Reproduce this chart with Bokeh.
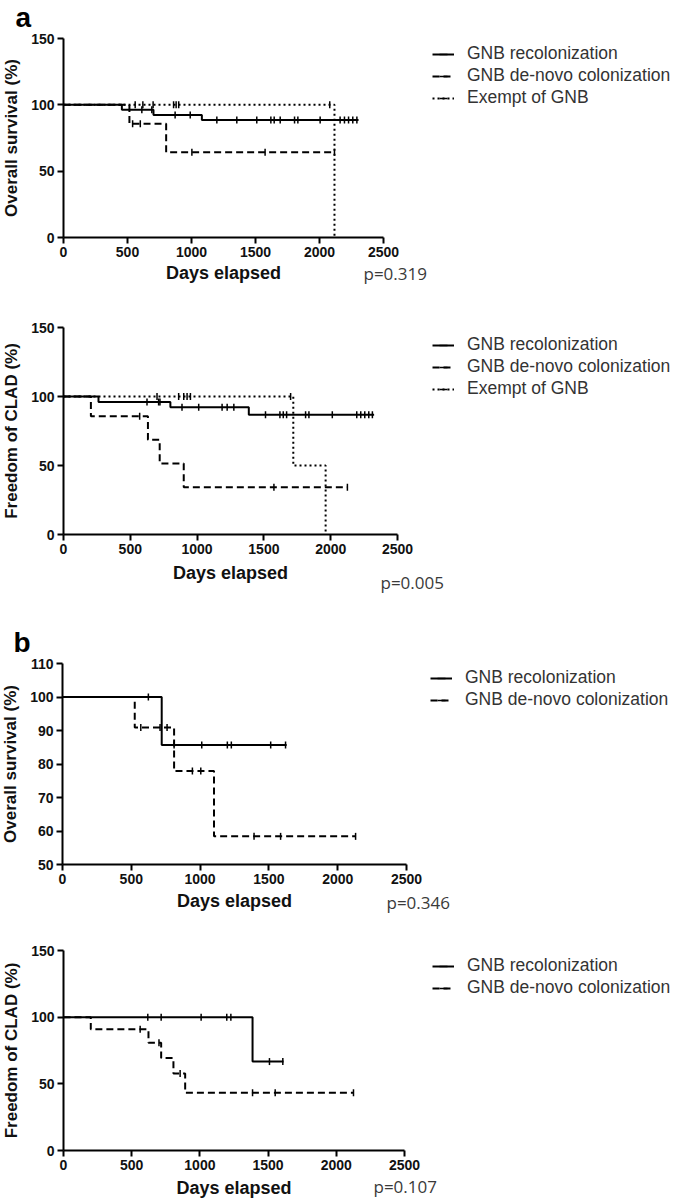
import numpy as np
from bokeh.plotting import figure
from bokeh.models import Range1d, Legend, LegendItem, Label, FixedTicker
from bokeh.layouts import column
from bokeh.embed import file_html
from bokeh.resources import INLINE

# ---------------- data ----------------
x_ticks = [0, 500, 1000, 1500, 2000, 2500]
y_ticks_150 = [0, 50, 100, 150]
y_ticks_os_b = [50, 60, 70, 80, 90, 100, 110]

group_labels = ["GNB recolonization", "GNB de-novo colonization", "Exempt of GNB"]
p_values = ["p=0.319", "p=0.005", "p=0.346", "p=0.107"]
y_titles = ["Overall survival (%)", "Freedom of CLAD (%)",
            "Overall survival (%)", "Freedom of CLAD (%)"]
x_title = "Days elapsed"
panel_tags = ["a", "b"]

# Panel a, overall survival
a_os_recol_t = [0, 456, 703, 1081, 2305]
a_os_recol_s = [100, 96.2, 92.3, 88.5, 88.5]
a_os_recol_c = [612, 690, 872, 990, 1198, 1354, 1510, 1620, 1646, 1693,
                1805, 1831, 2005, 2161, 2195, 2227, 2260, 2292]
a_os_denovo_t = [0, 515, 802, 2117]
a_os_denovo_s = [100, 85.7, 64.3, 64.3]
a_os_denovo_c = [540, 600, 1003, 1575, 2117]
a_os_exempt_t = [0, 2117]
a_os_exempt_s = [100, 0]
a_os_exempt_c = [560, 620, 700, 860, 880, 900, 2080]

# Panel a, freedom of CLAD
a_cl_recol_t = [0, 262, 800, 1387, 2325]
a_cl_recol_s = [100, 96.1, 92.3, 86.7, 86.7]
a_cl_recol_c = [625, 712, 722, 887, 1012, 1187, 1225, 1275, 1512, 1620, 1645,
                1670, 1812, 1837, 2012, 2195, 2225, 2255, 2285, 2312]
a_cl_denovo_t = [0, 205, 632, 720, 900, 2125]
a_cl_denovo_s = [100, 85.7, 68.6, 51.4, 34.3, 34.3]
a_cl_denovo_c = [570, 1575, 2125]
a_cl_exempt_t = [0, 1720, 1962]
a_cl_exempt_s = [100, 50, 0]
a_cl_exempt_c = [700, 862, 900, 925, 950, 1700]

# Panel b, overall survival
b_os_recol_t = [0, 721, 1629]
b_os_recol_s = [100, 85.7, 85.7]
b_os_recol_c = [624, 811, 1012, 1198, 1227, 1513, 1621]
b_os_denovo_t = [0, 525, 811, 1101, 2130]
b_os_denovo_s = [100, 90.9, 77.9, 58.4, 58.4]
b_os_denovo_c = [569, 709, 760, 944, 1005, 1392, 1585, 2130]

# Panel b, freedom of CLAD
b_cl_recol_t = [0, 1386, 1613]
b_cl_recol_s = [100, 66.7, 66.7]
b_cl_recol_c = [618, 716, 1009, 1197, 1227, 1510, 1608]
b_cl_denovo_t = [0, 200, 623, 716, 806, 892, 2126]
b_cl_denovo_s = [100, 90.9, 80.8, 69.3, 57.7, 43.3, 43.3]
b_cl_denovo_c = [562, 700, 855, 1386, 1552, 2126]

FONT = "Liberation Sans"
DASHES = ["solid", "7 4", "2 3"]
W = 684
XOFF = 0


def step_value(t, s, c):
    idx = np.searchsorted(np.asarray(t), c, side="right") - 1
    return float(s[max(idx, 0)])


def km_panel(curves, yr, y_ticks, y_title, p_text, top, height,
             fx0, fx1, fyb, fyt, legend_left, legend_bottom, p_left, p_mid,
             tag=None, tag_left=0, tag_base=0, xlab_standoff=5):
    """fx0/fx1: pixel column of day 0 / day 2500, fyb/fyt: pixel row of the
    y-range bottom / top (page layout grid); everything else in the same grid."""
    H = height
    cx0, cx1 = fx0 + XOFF, fx1 + XOFF
    kx = (cx1 - cx0) / 2500.0
    xs = -cx0 / kx
    cyb, cyt = fyb - top, fyt - top
    ky = (cyb - cyt) / float(yr[1] - yr[0])
    ys = yr[0] - (H - cyb) / ky

    p = figure(width=W, height=H,
               x_range=Range1d(xs, xs + W / kx), y_range=Range1d(ys, ys + H / ky),
               output_backend="svg", toolbar_location=None, min_border=0)
    p.outline_line_color = None
    p.grid.visible = False
    p.background_fill_color = "white"
    p.border_fill_color = "white"
    p.title.text = ""

    p.xaxis.ticker = FixedTicker(ticks=x_ticks)
    p.yaxis.ticker = FixedTicker(ticks=y_ticks)
    p.xaxis.fixed_location = yr[0]
    p.xaxis.bounds = (0, 2500)
    p.yaxis.fixed_location = 0
    p.yaxis.bounds = (yr[0], yr[1])
    for ax in (p.xaxis, p.yaxis):
        ax.axis_line_width = 2
        ax.axis_line_color = "black"
        ax.major_tick_line_width = 2
        ax.major_tick_line_color = "black"
        ax.major_tick_out = 6
        ax.major_tick_in = 0
        ax.minor_tick_line_color = None
        ax.major_label_text_font = FONT
        ax.major_label_text_font_style = "bold"
        ax.major_label_text_font_size = "14px"
        ax.major_label_text_color = "#111111"
        ax.major_label_standoff = 3
        ax.axis_label_text_font = FONT
        ax.axis_label_text_font_style = "bold"
        ax.axis_label_text_color = "#111111"
    p.xaxis.axis_label = x_title
    p.xaxis.axis_label_text_font_size = "18px"
    p.xaxis.axis_label_standoff = xlab_standoff
    p.yaxis.axis_label = y_title
    p.yaxis.axis_label_text_font_size = "17px"
    p.yaxis.axis_label_standoff = 7

    items = []
    for k, (t, s, c) in enumerate(curves):
        lr = p.step(t, s, mode="after", line_color="black", line_width=2,
                    line_dash=DASHES[k])
        cy = [step_value(t, s, ci) for ci in c]
        tr = p.scatter(c, cy, marker="dash", angle=np.pi / 2, size=7,
                       line_color="black", line_width=1.5)
        items.append(LegendItem(label=group_labels[k], renderers=[lr, tr]))

    leg = Legend(items=items,
                 location=(legend_left + XOFF, H - (legend_bottom - top)),
                 orientation="vertical",
                 glyph_width=22, glyph_height=20, label_height=20,
                 label_standoff=13, spacing=1, padding=0, margin=0,
                 border_line_color=None, background_fill_alpha=0,
                 label_text_font=FONT, label_text_font_size="17.5px",
                 label_text_color="#333333")
    p.add_layout(leg)

    p.add_layout(Label(x=p_left + XOFF, y=H - (p_mid - top),
                       x_units="screen", y_units="screen",
                       text=p_text, text_font="Open Sans", text_font_size="17px",
                       text_color="#3a3a3a", text_baseline="middle",
                       text_align="left"))
    if tag:
        p.add_layout(Label(x=tag_left + XOFF, y=H - (tag_base - top),
                           x_units="screen", y_units="screen", text=tag,
                           text_font=FONT, text_font_style="bold",
                           text_font_size="28px", text_color="black",
                           text_baseline="alphabetic", text_align="left"))
    return p


p1 = km_panel([(a_os_recol_t, a_os_recol_s, a_os_recol_c),
               (a_os_denovo_t, a_os_denovo_s, a_os_denovo_c),
               (a_os_exempt_t, a_os_exempt_s, a_os_exempt_c)],
              (0, 150), y_ticks_150, y_titles[0], p_values[0],
              top=0, height=293, fx0=63, fx1=383, fyb=237, fyt=38,
              legend_left=432, legend_bottom=108, p_left=363, p_mid=273,
              tag=panel_tags[0], tag_left=15, tag_base=17, xlab_standoff=3)
p2 = km_panel([(a_cl_recol_t, a_cl_recol_s, a_cl_recol_c),
               (a_cl_denovo_t, a_cl_denovo_s, a_cl_denovo_c),
               (a_cl_exempt_t, a_cl_exempt_s, a_cl_exempt_c)],
              (0, 150), y_ticks_150, y_titles[1], p_values[1],
              top=293, height=305, fx0=63, fx1=397, fyb=534, fyt=327,
              legend_left=432, legend_bottom=399, p_left=380, p_mid=582,
              xlab_standoff=6)
p3 = km_panel([(b_os_recol_t, b_os_recol_s, b_os_recol_c),
               (b_os_denovo_t, b_os_denovo_s, b_os_denovo_c)],
              (50, 110), y_ticks_os_b, y_titles[2], p_values[2],
              top=598, height=317, fx0=62, fx1=406, fyb=864, fyt=663,
              legend_left=430, legend_bottom=710, p_left=386, p_mid=902,
              tag=panel_tags[1], tag_left=13, tag_base=642, xlab_standoff=4)
p4 = km_panel([(b_cl_recol_t, b_cl_recol_s, b_cl_recol_c),
               (b_cl_denovo_t, b_cl_denovo_s, b_cl_denovo_c)],
              (0, 150), y_ticks_150, y_titles[3], p_values[3],
              top=917, height=285, fx0=63, fx1=404, fyb=1152, fyt=952,
              legend_left=432, legend_bottom=1000, p_left=373, p_mid=1188,
              xlab_standoff=5)

layout = column(p1, p2, p3, p4, spacing=0)
open("out.html", "w").write(file_html(layout, INLINE))
